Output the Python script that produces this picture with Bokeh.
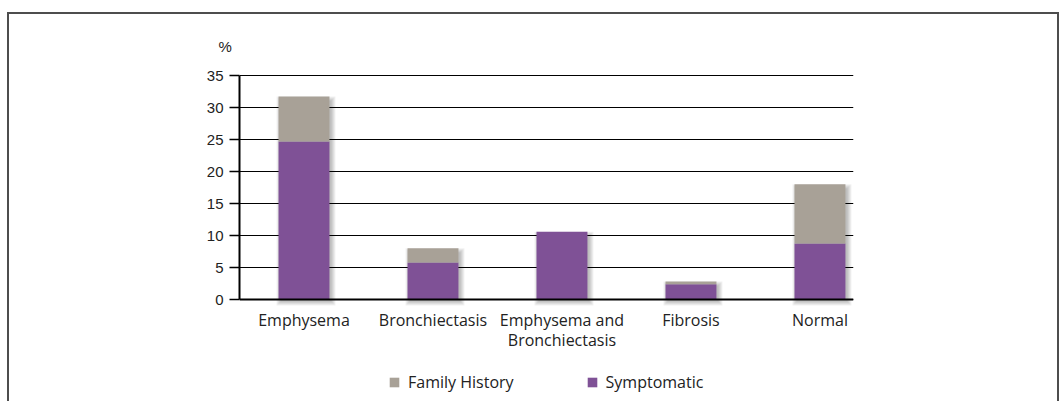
from bokeh.plotting import figure
from bokeh.models import (ColumnDataSource, FixedTicker, Legend, LegendItem, Range1d)
from bokeh.embed import file_html
from bokeh.resources import INLINE

categories = ["Emphysema", "Bronchiectasis", "Emphysema and\nBronchiectasis", "Fibrosis", "Normal"]
symptomatic = [24.7, 5.8, 10.6, 2.4, 8.75]
family_history = [7.0, 2.2, 0.0, 0.4, 9.25]
y_ticks = [0, 5, 10, 15, 20, 25, 30, 35]

PURPLE = "#7f5196"
GRAY = "#a8a197"
BAR_W = 0.395

xs = list(range(len(categories)))
totals = [s + f for s, f in zip(symptomatic, family_history)]
src = ColumnDataSource(dict(x=xs, symptomatic=symptomatic, family_history=family_history))

W, H = 1060, 401
Y0, Y1 = -15.0, 35.3125
p = figure(width=W, height=H, output_backend="svg", toolbar_location=None,
           x_range=Range1d(-0.5, 4.26), y_range=Range1d(Y0, Y1),
           min_border_left=239, min_border_right=W - 853, min_border_top=73,
           min_border_bottom=6)
p.outline_line_color = None
p.background_fill_alpha = 0
p.border_fill_alpha = 0
p.styles = {
    "background-color": "white",
    "background-image": "linear-gradient(#4d4d4d,#4d4d4d), linear-gradient(#4d4d4d,#4d4d4d), linear-gradient(#4d4d4d,#4d4d4d)",
    "background-size": "2px 400px, 1052px 2px, 2px 400px",
    "background-position": "7px 12px, 7px 12px, 1057px 12px",
    "background-repeat": "no-repeat",
}

# soft drop shadow under bars
px_x = 1 / 129.0
px_y = 1 / 6.4
for k in range(5):
    p.vbar(x=[x + 2 * px_x for x in xs], width=BAR_W + 2 * k * px_x,
           top=[t - (4 - k) * px_y for t in totals], bottom=-(2 + k) * px_y,
           fill_color="black", fill_alpha=0.055, line_color=None)

rs = p.vbar_stack(["symptomatic", "family_history"], x="x", width=BAR_W,
                  color=[PURPLE, GRAY], line_color=None, source=src)

# axes
p.xaxis.ticker = FixedTicker(ticks=xs)
p.xaxis.fixed_location = 0
p.xaxis.major_label_overrides = {i: c for i, c in enumerate(categories)}
p.xaxis.axis_line_color = "black"
p.xaxis.axis_line_width = 2
p.xaxis.major_tick_line_color = None
p.xaxis.major_tick_out = 0
p.xaxis.minor_tick_line_color = None
p.xaxis.major_label_text_font = "Open Sans"
p.xaxis.major_label_text_font_size = "16px"
p.xaxis.major_label_text_color = "#222222"
p.xaxis.major_label_text_line_height = 0.92
p.xaxis.major_label_standoff = 9

p.yaxis.ticker = FixedTicker(ticks=y_ticks)
p.yaxis.bounds = (0, 35)
p.yaxis.axis_line_color = "black"
p.yaxis.axis_line_width = 2
p.yaxis.major_tick_line_color = "black"
p.yaxis.major_tick_line_width = 1.5
p.yaxis.major_tick_out = 10
p.yaxis.major_tick_in = 0
p.yaxis.minor_tick_line_color = None
p.yaxis.major_label_text_font = "Liberation Sans"
p.yaxis.major_label_text_font_size = "15px"
p.yaxis.major_label_text_color = "#222222"
p.yaxis.major_label_standoff = 6

p.xgrid.grid_line_color = None
p.ygrid.ticker = FixedTicker(ticks=y_ticks)
p.ygrid.grid_line_color = "black"
p.ygrid.grid_line_width = 1.2

p.title.text = "%"
p.title.align = "left"
p.title.offset = -21
p.title.standoff = 38
p.title.text_font = "Liberation Sans"
p.title.text_font_size = "15px"
p.title.text_font_style = "normal"
p.title.text_color = "#222222"

legend = Legend(items=[LegendItem(label="Family History", renderers=[rs[1]]),
                       LegendItem(label="Symptomatic", renderers=[rs[0]])],
                orientation="horizontal", location=(149, 2),
                glyph_width=12, glyph_height=12, label_standoff=8, spacing=72,
                padding=0, margin=0, border_line_color=None,
                background_fill_alpha=0,
                label_text_font="Open Sans", label_text_font_size="16px",
                label_text_color="#222222")
p.add_layout(legend, "center")

open("out.html", "w").write(file_html(p, INLINE))
